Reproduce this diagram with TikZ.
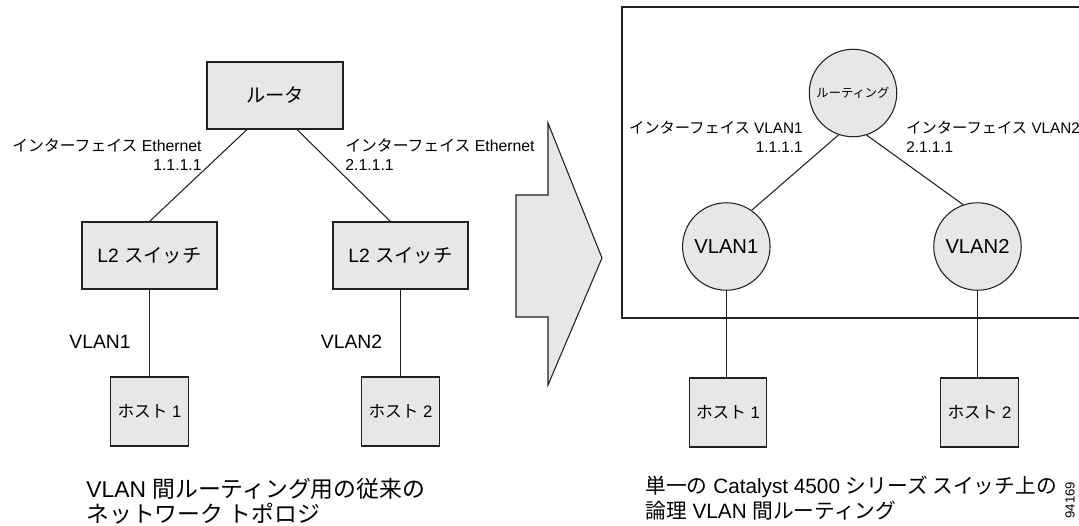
\documentclass[tikz,border=0pt]{standalone}
\usepackage{fontspec}
\setmainfont{Liberation Sans}
\newfontfamily\jp{Noto Sans CJK JP}
\usetikzlibrary{calc}
\definecolor{boxgray}{HTML}{E6E7E8}
\definecolor{linegray}{HTML}{231F20}
\tikzset{
  box/.style={draw=linegray, fill=boxgray, line width=0.6pt, inner sep=0pt},
  swbox/.style={box, minimum width=2.7cm, minimum height=1.34cm, font=\fontsize{11}{13}\selectfont},
  hostbox/.style={box, minimum width=1.55cm, minimum height=1.38cm, font=\fontsize{9.5}{11}\selectfont},
  vcircle/.style={box, circle, minimum size=1.75cm, font=\fontsize{11.5}{13}\selectfont},
  link/.style={draw=linegray, line width=0.6pt},
  iflabel/.style={font=\fontsize{9}{10.8}\selectfont, inner sep=0pt},
  caption/.style={font=\fontsize{12.5}{14.2}\selectfont, inner sep=0pt, align=left, anchor=north west}
}
\begin{document}
\begin{tikzpicture}[x=0.02cm, y=-0.02cm]
   \useasboundingbox (0,0) rectangle (1079,525);

   % left: traditional topology
   \node[swbox, minimum width=2.72cm] (router) at (275,95.5) {\jp ルータ};
   \node[swbox] (swa) at (149.5,255.5) {L2 {\jp スイッチ}};
   \node[swbox] (swb) at (400.5,255.5) {L2 {\jp スイッチ}};
   \node[hostbox] (hosta) at (149.5,411.5) {{\jp ホスト} 1};
   \node[hostbox] (hostb) at (400.5,411.5) {{\jp ホスト} 2};

   \draw[link] ([xshift=-0.56cm]router.south) -- (swa.north);
   \draw[link] ([xshift=0.44cm]router.south) -- ([xshift=-0.2cm]swb.north);
   \draw[link] (swa) -- (hosta);
   \draw[link] (swb) -- (hostb);

   \node[iflabel, align=right, anchor=east] (ifa) at (202,155) {{\jp インターフェイス} Ethernet\\1.1.1.1};
   \node[iflabel, align=left, anchor=west] (ifb) at (345,155) {{\jp インターフェイス} Ethernet\\2.1.1.1};
   \node[font=\fontsize{11}{13}\selectfont, inner sep=0pt] (vla) at (100,342) {VLAN1};
   \node[font=\fontsize{11}{13}\selectfont, inner sep=0pt] (vlb) at (351.5,342) {VLAN2};

   \node[caption, font=\fontsize{13}{14.2}\selectfont] (capa) at (86,478) {VLAN {\jp 間ルーティング用の従来の}\\{\jp ネットワーク トポロジ}};

   % big arrow
   \draw[box] (548,123) -- (548,195) -- (516,195) -- (516,317) -- (548,317)
      -- (548,385) -- (602,258) -- cycle;

   % right: one switch
   \draw[link] (622,7) rectangle (1090,318);
   \node[vcircle, font=\fontsize{7}{8}\selectfont] (routing) at (853,93) {\jp ルーティング};
   \node[vcircle] (vlana) at (726.3,246.5) {VLAN1};
   \node[vcircle] (vlanb) at (977.5,246.5) {VLAN2};
   \node[hostbox] (hostc) at (728,412.5) {{\jp ホスト} 1};
   \node[hostbox] (hostd) at (979.5,412.5) {{\jp ホスト} 2};

   \draw[link] (routing.251) -- (vlana.55);
   \draw[link] (routing.288) -- (vlanb.109);
   \draw[link] (vlana.south) -- (vlana.south |- hostc.north);
   \draw[link] (vlanb.south) -- (vlanb.south |- hostd.north);

   \node[iflabel, font=\fontsize{8.7}{10.8}\selectfont, align=right, anchor=east] (ifc) at (803,137) {{\jp インターフェイス} VLAN1\\1.1.1.1};
   \node[iflabel, font=\fontsize{8.7}{10.8}\selectfont, align=left, anchor=west] (ifd) at (906,137) {{\jp インターフェイス} VLAN2\\2.1.1.1};

   \node[caption, font=\fontsize{11.8}{14.2}\selectfont] (capb) at (645,476) {{\jp 単一の} Catalyst 4500 {\jp シリーズ スイッチ上の}\\{\jp 論理} VLAN {\jp 間ルーティング}};

   \node[font=\fontsize{7.5}{9}\selectfont, rotate=90, inner sep=0pt] (fignum) at (1070,500) {94169};
\end{tikzpicture}
\end{document}
